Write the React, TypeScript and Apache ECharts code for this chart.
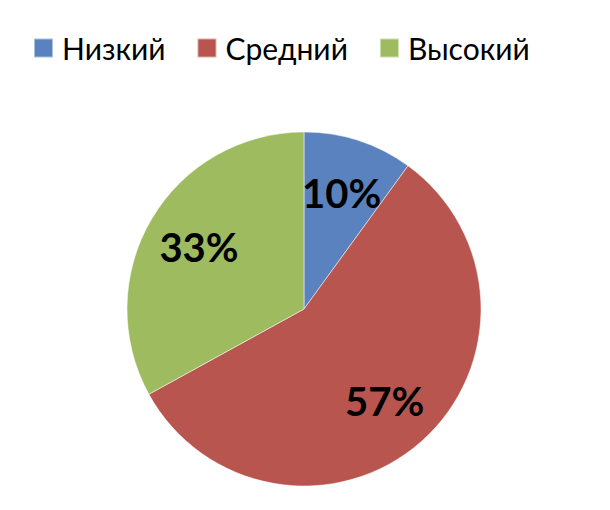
import React, { useEffect, useRef } from "react";
import * as echarts from "echarts";

const categories = ["Низкий", "Средний", "Высокий"];
const values = [10, 57, 33];
const colors = ["#5A82BF", "#B8554F", "#9EBB60"];

export default function App() {
  const ref = useRef<HTMLDivElement>(null);
  useEffect(() => {
    if (!ref.current) return;
    const chart = echarts.init(ref.current, undefined, { renderer: "svg" });
    const data = categories.map((name, i) => ({ name, value: values[i] }));
    chart.setOption({
      animation: false,
      color: colors,
      legend: {
        data: categories,
        left: 28,
        top: 28,
        icon: "rect",
        itemWidth: 19,
        itemHeight: 19,
        itemGap: 31,
        textStyle: { fontSize: 30, color: "#000", fontFamily: "Lato", padding: [0, 0, 0, 4] },
      },
      series: [
        {
          type: "pie",
          center: [304, 309],
          radius: [0, 177],
          startAngle: 90,
          clockwise: true,
          data,
          label: { show: false },
          labelLine: { show: false },
          itemStyle: { borderColor: "rgba(255,255,255,0.5)", borderWidth: 1 },
          silent: true,
        },
        {
          type: "pie",
          center: [304, 309],
          radius: [0, 238],
          startAngle: 90,
          clockwise: true,
          data,
          itemStyle: { color: "rgba(0,0,0,0)" },
          label: {
            show: true,
            position: "inner",
            formatter: "{d}%",
            fontSize: 40,
            fontWeight: "bold",
            fontFamily: "Lato",
            color: "#000",
          },
          labelLine: { show: false },
          silent: true,
          legendHoverLink: false,
        },
      ],
    });
    return () => chart.dispose();
  }, []);
  return (
    <div
      ref={ref}
      style={{ position: "fixed", left: 0, top: 0, width: 610, height: 510, background: "#fff" }}
    />
  );
}
